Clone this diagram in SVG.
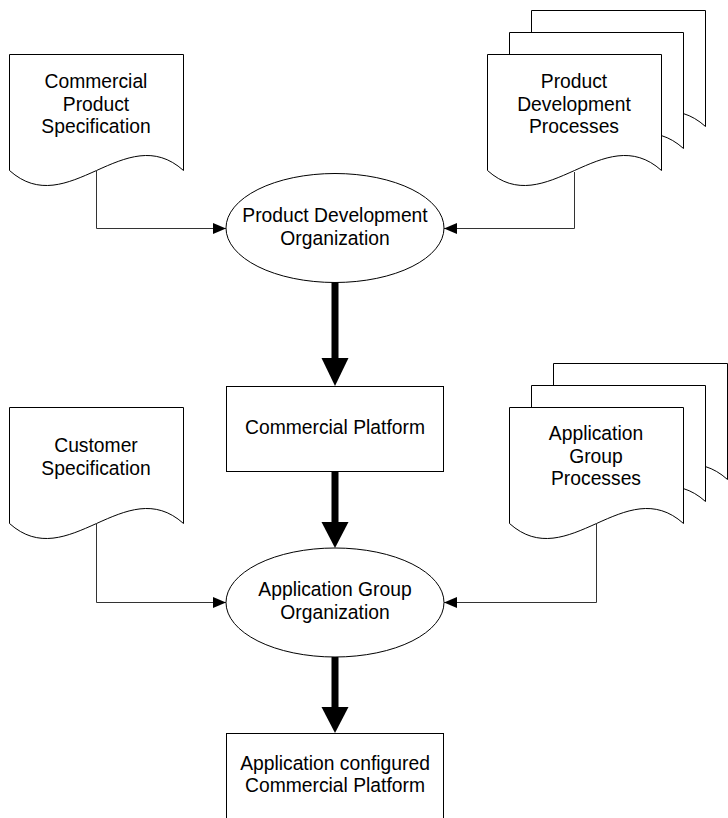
<svg xmlns="http://www.w3.org/2000/svg" width="728" height="818" viewBox="0 0 728 818">
  <defs>
    <style>
      .shape { fill: #fff; stroke: #000; stroke-width: 1; }
      .label { font-family: "Liberation Sans", Arial, sans-serif; font-size: 19.3px; fill: #000; text-anchor: middle; }
      .link { fill: none; stroke: #333; stroke-width: 1; }
      .flow { fill: none; stroke: #000; stroke-width: 7; stroke-linecap: round; }
      .head { fill: #000; stroke: none; }
    </style>
    <!-- document shape: 174 wide, wavy bottom edge -->
    <path id="doc" d="M0,0 H174 V116 C116,64 58,168 0,116 Z"/>
    <marker id="tip" markerWidth="13" markerHeight="11" refX="13" refY="5.5" orient="auto" markerUnits="userSpaceOnUse">
      <path d="M0,0 L13,5.5 L0,11 Z" fill="#000"/>
    </marker>
  </defs>

  <rect width="728" height="818" fill="#fff"/>

  <!-- connectors -->
  <g id="connectors">
    <path class="link" d="M96.5,171 V228.5 H226" marker-end="url(#tip)"/>
    <path class="link" d="M574.5,172 V228.5 H444" marker-end="url(#tip)"/>
    <path class="link" d="M96.5,524 V602.5 H226" marker-end="url(#tip)"/>
    <path class="link" d="M596.5,524 V602.5 H444" marker-end="url(#tip)"/>

    <line class="flow" x1="335" y1="281" x2="335" y2="360"/>
    <path class="head" d="M321.5,358 H348.5 L335,386 Z"/>
    <line class="flow" x1="335" y1="471" x2="335" y2="524"/>
    <path class="head" d="M321.5,522 H348.5 L335,548 Z"/>
    <line class="flow" x1="335" y1="658" x2="335" y2="709"/>
    <path class="head" d="M321.5,707 H348.5 L335,733 Z"/>
  </g>

  <!-- input documents -->
  <g id="commercial-product-spec">
    <use href="#doc" class="shape" x="9.5" y="54.5"/>
    <text class="label" x="96" y="88">Commercial</text>
    <text class="label" x="96" y="110.5">Product</text>
    <text class="label" x="96" y="133">Specification</text>
  </g>

  <g id="product-development-processes">
    <use href="#doc" class="shape" x="531.5" y="10.5"/>
    <use href="#doc" class="shape" x="509.5" y="32.5"/>
    <use href="#doc" class="shape" x="487.5" y="54.5"/>
    <text class="label" x="574" y="88">Product</text>
    <text class="label" x="574" y="110.5">Development</text>
    <text class="label" x="574" y="133">Processes</text>
  </g>

  <g id="customer-spec">
    <use href="#doc" class="shape" x="9.5" y="407.5"/>
    <text class="label" x="96" y="452">Customer</text>
    <text class="label" x="96" y="475">Specification</text>
  </g>

  <g id="application-group-processes">
    <use href="#doc" class="shape" x="553.5" y="363.5"/>
    <use href="#doc" class="shape" x="531.5" y="385.5"/>
    <use href="#doc" class="shape" x="509.5" y="407.5"/>
    <text class="label" x="596" y="440">Application</text>
    <text class="label" x="596" y="462.5">Group</text>
    <text class="label" x="596" y="485">Processes</text>
  </g>

  <!-- organizations -->
  <g id="product-development-org">
    <ellipse class="shape" cx="335" cy="228" rx="109" ry="54.5"/>
    <text class="label" x="335" y="222">Product Development</text>
    <text class="label" x="335" y="245">Organization</text>
  </g>

  <g id="application-group-org">
    <ellipse class="shape" cx="335" cy="602.5" rx="109" ry="54.5"/>
    <text class="label" x="335" y="596">Application Group</text>
    <text class="label" x="335" y="619">Organization</text>
  </g>

  <!-- platforms -->
  <g id="commercial-platform">
    <rect class="shape" x="226.5" y="386.5" width="217" height="85"/>
    <text class="label" x="335" y="434">Commercial Platform</text>
  </g>

  <g id="configured-platform">
    <rect class="shape" x="226.5" y="733.5" width="217" height="100"/>
    <text class="label" x="335" y="770">Application configured</text>
    <text class="label" x="335" y="792">Commercial Platform</text>
  </g>
</svg>
